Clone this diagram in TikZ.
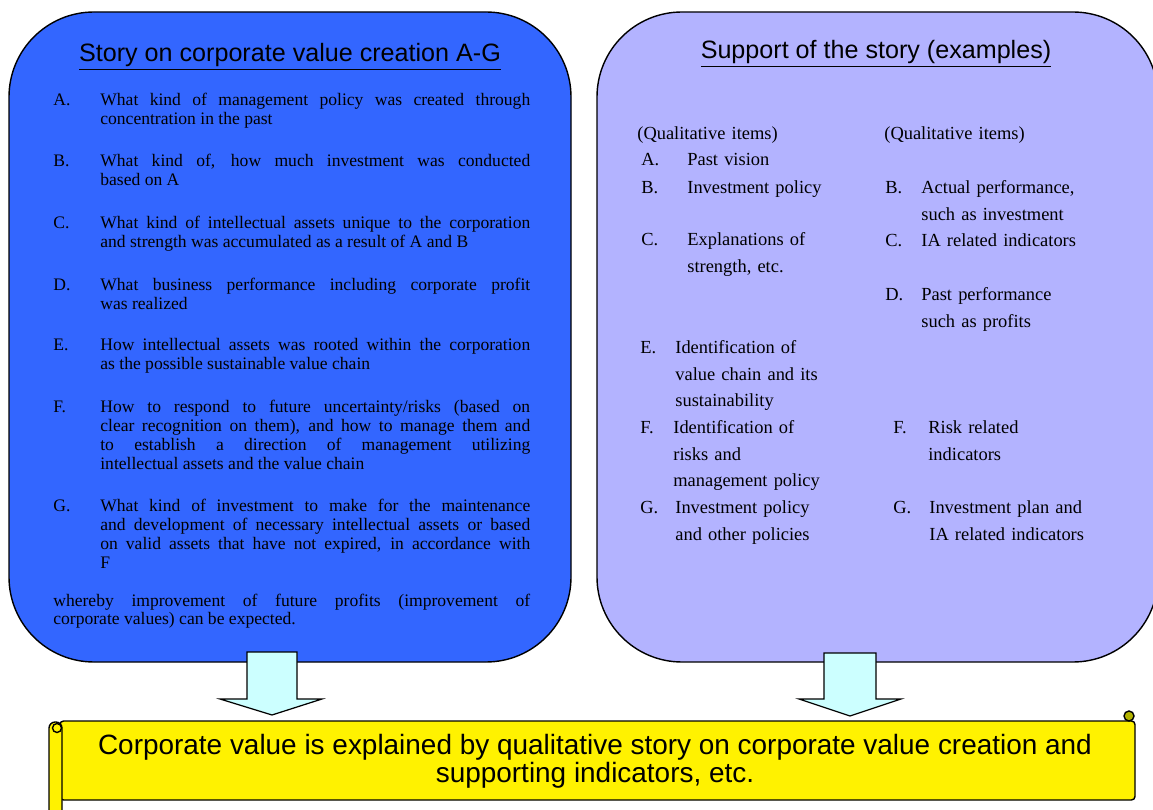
\documentclass[tikz,border=0pt]{standalone}
\usepackage{fontspec}
\setmainfont{Liberation Serif}
\setsansfont{Liberation Sans}
\hyphenpenalty=10000
\definecolor{storyblue}{HTML}{3366FF}
\definecolor{supportlilac}{HTML}{B3B3FF}
\definecolor{arrowcyan}{HTML}{CCFFFF}
\definecolor{curlolive}{HTML}{B3B300}
\tikzset{
  panel/.style={draw=black, line width=0.8pt, rounded corners=1.7cm},
  blockarrow/.style={draw=black, line width=0.7pt, fill=arrowcyan},
  scroll/.style={draw=black, line width=0.8pt, fill=yellow},
  heading/.style={font=\sffamily\fontsize{14.3}{16}\selectfont},
  letter/.style={anchor=base west, inner sep=0pt, font=\fontsize{10}{10.8}\selectfont},
  story/.style={letter, text width=8.6cm, align=justify},
  support/.style={anchor=base west, inner sep=0pt, text width=4cm, align=left,
    font=\fontsize{10.5}{15}\selectfont}
}
\begin{document}
\begin{tikzpicture}[x=0.02cm, y=-0.02cm]
  \useasboundingbox (0,0) rectangle (1153,810);

  % the two panels
  \draw[panel, fill=storyblue] (9,12) rectangle (571,662);
  \draw[panel, fill=supportlilac] (597,12) rectangle (1158,662);

  % block arrows down to the scroll
  \draw[blockarrow] (247,652) -- (297,652) -- (297,699) -- (322,699) -- (272,715)
    -- (220,699) -- (247,699) -- cycle;
  \draw[blockarrow] (824,653) -- (876,653) -- (876,699) -- (901,699) -- (850,716)
    -- (799,699) -- (824,699) -- cycle;

  % scroll
  \draw[scroll, rounded corners=2pt] (60,721) rectangle (1135,800);
  \draw[scroll, rounded corners=3.5pt] (49,815) -- (49,722) -- (62,722) -- (62,815);
  \draw[scroll] (57,728) circle[radius=4.5];
  \draw[line width=0.8pt, fill=curlolive] (1129,716) circle[radius=5];

  % left panel
  \node[heading] (storytitle) at (290,57) {\underline{Story on corporate value creation A-G}};

  \node[letter] (la) at (53,106) {A.};
  \node[story] (ta) at (100,106) {What kind of management policy was created through\linebreak
    concentration in the past};
  \node[letter] (lb) at (53,167) {B.};
  \node[story] (tb) at (100,167) {What kind of, how much investment was conducted\linebreak
    based on A};
  \node[letter] (lc) at (53,229) {C.};
  \node[story] (tc) at (100,229) {What kind of intellectual assets unique to the corporation\linebreak
    and strength was accumulated as a result of A and B};
  \node[letter] (ld) at (53,291) {D.};
  \node[story] (td) at (100,291) {What business performance including corporate profit\linebreak
    was realized};
  \node[letter] (le) at (53,351) {E.};
  \node[story] (te) at (100,351) {How intellectual assets was rooted within the corporation\linebreak
    as the possible sustainable value chain};
  \node[letter] (lf) at (53,413) {F.};
  \node[story] (tf) at (100,413) {How to respond to future uncertainty/risks (based on\linebreak
    clear recognition on them), and how to manage them and\linebreak
    to establish a direction of management utilizing\linebreak
    intellectual assets and the value chain};
  \node[letter] (lg) at (53,512) {G.};
  \node[story] (tg) at (100,512) {What kind of investment to make for the maintenance\linebreak
    and development of necessary intellectual assets or based\linebreak
    on valid assets that have not expired, in accordance with\linebreak
    F};
  \node[story, text width=9.54cm] (whereby) at (53,606) {whereby improvement of future profits (improvement of\linebreak
    corporate values) can be expected.};

  % right panel
  \node[heading] (supporttitle) at (876,54) {\underline{Support of the story (examples)}};

  \node[support] (qual1) at (637,140) {(Qualitative items)};
  \node[support] (qual2) at (884,140) {(Qualitative items)};

  \node[support] (sa) at (641,166) {A.};
  \node[support] (sat) at (687,166) {Past vision};
  \node[support] (sb) at (641,194) {B.};
  \node[support] (sbt) at (687,194) {Investment policy};
  \node[support] (sc) at (641,246) {C.};
  \node[support] (sct) at (687,246) {Explanations of\\strength, etc.};
  \node[support] (se) at (640,354) {E.};
  \node[support] (set) at (675,354) {Identification of\\value chain and its\\sustainability};
  \node[support] (sf) at (640,434) {F.};
  \node[support] (sft) at (673,434) {Identification of\\risks and\\management policy};
  \node[support] (sg) at (640,514) {G.};
  \node[support] (sgt) at (675,514) {Investment policy\\and other policies};

  \node[support] (ib) at (885,194) {B.};
  \node[support] (ibt) at (921,194) {Actual performance,\\such as investment};
  \node[support] (ic) at (885,247) {C.};
  \node[support] (ict) at (921,247) {IA related indicators};
  \node[support] (id) at (885,301) {D.};
  \node[support] (idt) at (921,301) {Past performance\\such as profits};
  \node[support] (if) at (893,434) {F.};
  \node[support] (ift) at (928,434) {Risk related\\indicators};
  \node[support] (ig) at (893,514) {G.};
  \node[support] (igt) at (929,514) {Investment plan and\\IA related indicators};

  % scroll text
  \node[align=center, font=\sffamily\fontsize{15.9}{16}\selectfont] (summary) at (595,761)
    {Corporate value is explained by qualitative story on corporate value creation and\\
     supporting indicators, etc.};
\end{tikzpicture}
\end{document}
